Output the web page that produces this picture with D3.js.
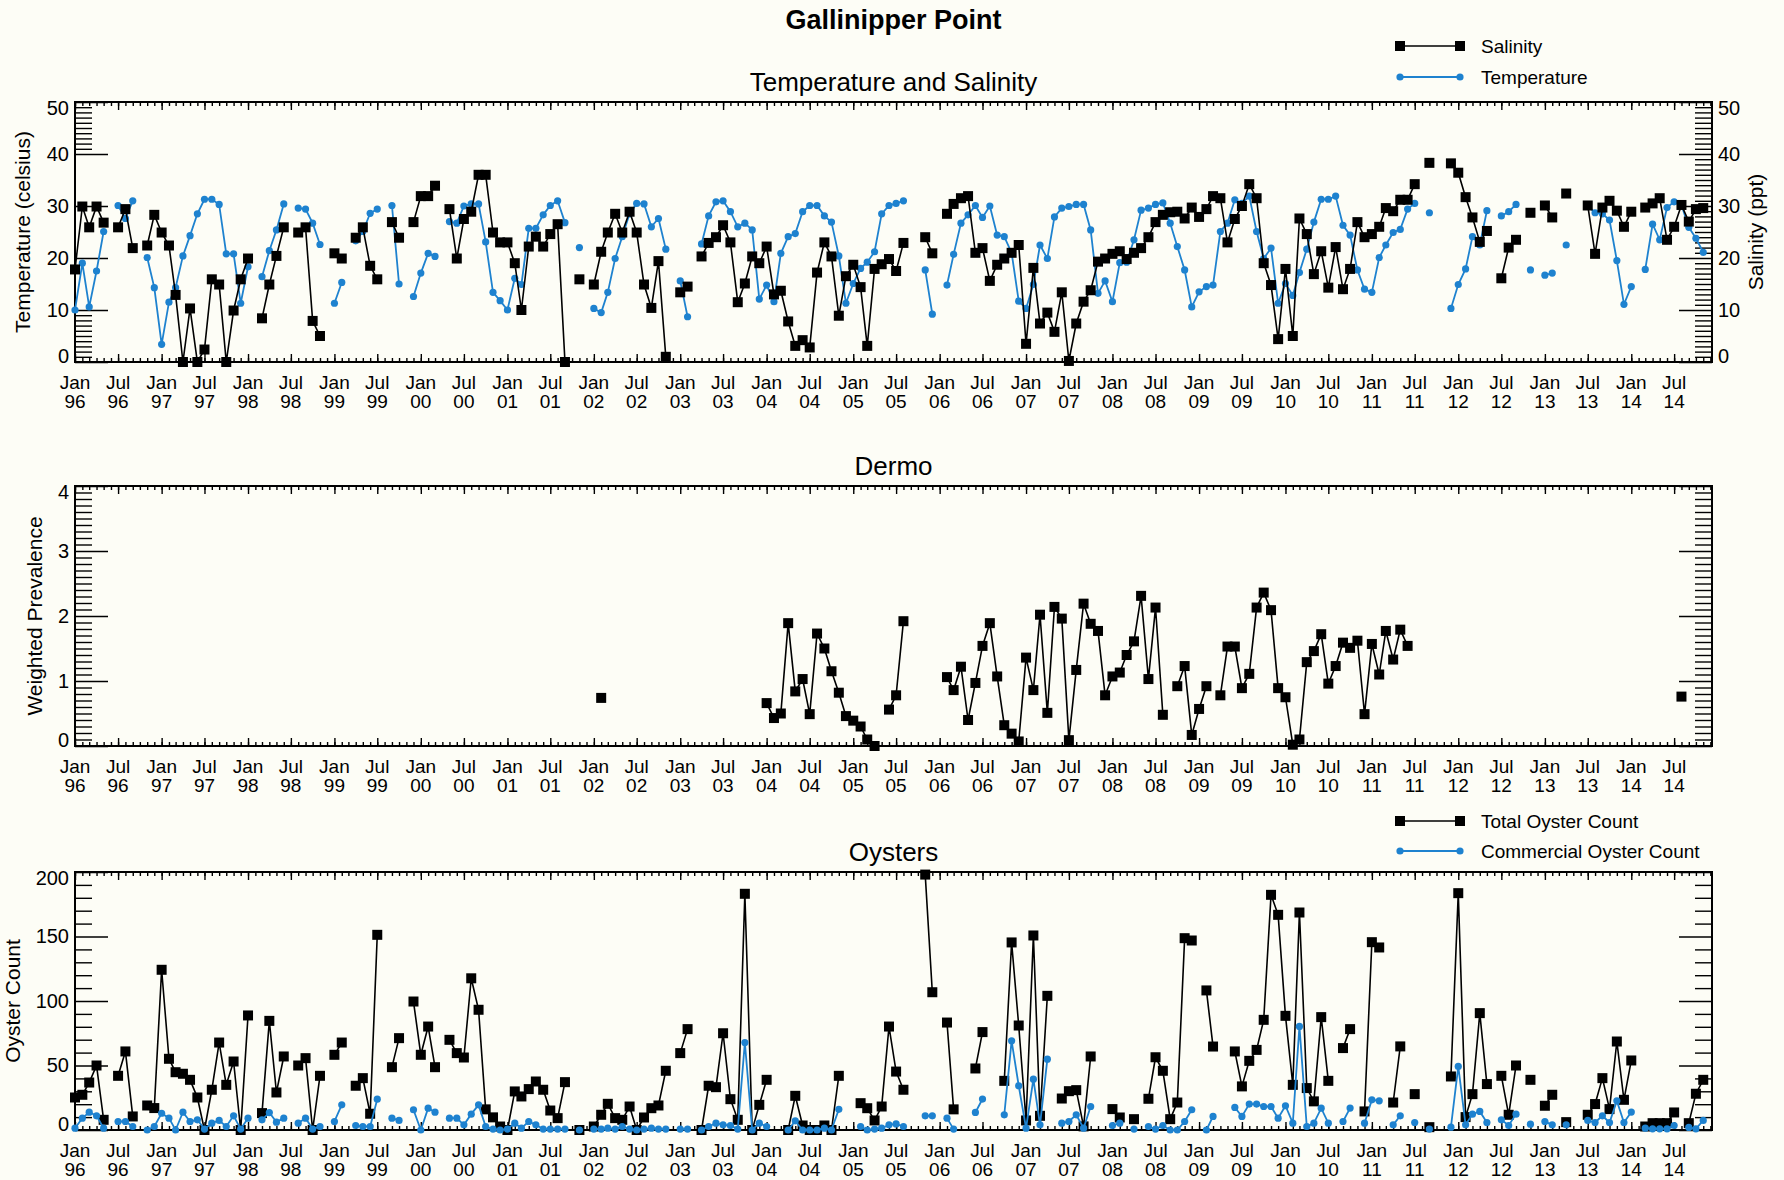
<!DOCTYPE html>
<html>
<head>
<meta charset="utf-8">
<script src="https://cdn.jsdelivr.net/npm/d3@7"></script>
<style>
  body { margin: 0; background: #fdfdf6; }
  text { font-family: "Liberation Sans", Arial, sans-serif; fill: #000; }
</style>
</head>
<body>
<div class="chart"></div>
<script>
var N = null;

// one slot per month, Jan 1996 .. Dec 2014
var firstMonth = new Date(1996, 0, 1);
var months = d3.timeMonth.range(firstMonth, new Date(2015, 0, 1));

var salinity = [
  17.8, 29.9, 25.9, 29.9, 26.8, N, 25.9, 29.4, 21.9, N, 22.4, 28.3,
  24.9, 22.4, 12.9, 0, 10.3, 0, 2.4, 15.9, 14.9, 0, 9.9, 15.9,
  19.9, N, 8.4, 14.9, 20.4, 25.9, N, 24.9, 25.9, 7.9, 5.0, N,
  20.9, 19.9, N, 23.9, 25.9, 18.5, 15.9, N, 26.9, 23.9, N, 26.9,
  31.9, 31.9, 33.9, N, 29.4, 19.9, 27.5, 28.9, 36.0, 36.0, 24.9, 23.0,
  23.0, 19.0, 10.0, 22.2, 24.1, 22.2, 24.6, 26.5, 0, N, 15.9, N,
  14.9, 21.2, 24.9, 28.5, 24.9, 28.9, 24.9, 14.9, 10.4, 19.4, 1.0, N,
  13.4, 14.5, N, 20.3, 22.9, 24.0, 26.3, 23.0, 11.5, 15.1, 20.3, 19.0,
  22.2, 13.0, 13.7, 7.8, 3.1, 4.2, 2.8, 17.2, 23.0, 20.3, 8.9, 16.5,
  18.7, 14.4, 3.1, 17.9, 18.8, 19.8, 17.5, 22.9, N, N, 24.0, 20.9,
  N, 28.5, 30.4, 31.5, 31.9, 21.0, 21.9, 15.6, 18.7, 19.9, 21.0, 22.5,
  3.5, 18.1, 7.4, 9.5, 5.8, 13.4, 0.2, 7.4, 11.6, 13.8, 19.3, 19.9,
  20.8, 21.3, 19.8, 21.0, 21.9, 24.0, 26.9, 28.3, 28.8, 28.9, 27.6, 29.7,
  27.9, 29.4, 31.9, 31.5, 23.0, 27.5, 30.0, 34.2, 31.5, 19.0, 14.8, 4.4,
  17.9, 5.0, 27.6, 24.6, 16.9, 21.3, 14.3, 22.1, 14.0, 17.9, 26.9, 24.0,
  24.6, 26.0, 29.6, 29.0, 31.2, 31.2, 34.2, N, 38.3, N, N, 38.2,
  36.4, 31.7, 27.8, 23.1, 25.2, N, 16.1, 22.0, 23.5, N, 28.7, N,
  30.1, 27.8, N, 32.4, N, N, 30.1, 20.8, 29.7, 31.0, 29.1, 26.0,
  28.9, N, 29.7, 30.5, 31.5, 23.5, 26.0, 30.2, 27.0, 29.4, 29.6, N
];

var temperature = [
  10.0, 19.0, 10.6, 17.5, 25.1, N, 30.1, 27.6, 31.0, N, 20.1, 14.3,
  3.4, 11.5, 14.3, 20.4, 24.3, 28.5, 31.3, 31.3, 30.3, 20.8, 20.8, 11.3,
  18.3, N, 16.4, 21.4, 25.4, 30.4, N, 29.6, 29.4, 26.7, 22.6, N,
  11.3, 15.3, N, 23.3, 25.1, 28.6, 29.4, N, 30.1, 15.0, N, 12.6,
  17.1, 20.9, 20.3, N, 27.0, 26.7, 30.0, 30.4, 30.4, 23.1, 13.4, 11.8,
  10.0, 16.1, 14.9, 25.7, 25.7, 28.3, 30.1, 31.0, 26.8, N, 22.0, N,
  10.3, 9.5, 13.4, 19.9, 24.1, 28.5, 30.5, 30.4, 26.0, 27.6, 21.7, N,
  15.6, 8.7, N, 22.7, 28.1, 30.8, 31.0, 28.9, 26.0, 26.7, 25.4, 12.1,
  14.8, 11.6, 20.9, 24.1, 24.7, 28.9, 30.1, 30.1, 28.1, 26.9, 20.4, 11.3,
  15.1, 18.0, 19.2, 21.2, 28.5, 30.1, 30.5, 31.0, N, N, 17.7, 9.2,
  N, 14.8, 20.7, 26.7, 28.3, 30.1, 27.8, 30.0, 24.4, 24.1, 21.0, 11.7,
  10.3, 14.9, 22.5, 19.9, 27.9, 29.6, 29.9, 30.3, 30.3, 25.4, 13.2, 15.6,
  11.6, 19.1, 19.2, 23.5, 29.2, 29.6, 30.3, 30.6, 26.7, 22.2, 17.7, 10.6,
  13.5, 14.5, 14.8, 25.1, 26.7, 31.2, 30.5, 31.9, 25.1, 19.9, 21.9, 11.3,
  15.1, 12.8, 17.2, 21.7, 26.9, 31.3, 31.3, 31.9, 26.3, 24.4, 17.7, 14.0,
  13.4, 20.1, 22.5, 24.9, 25.5, 29.4, 30.5, N, 28.7, N, N, 10.3,
  14.9, 17.9, 24.1, 22.5, 29.1, N, 28.1, 28.9, 30.3, N, 17.7, N,
  16.7, 17.1, N, 22.5, N, N, 30.0, 28.7, 28.5, 27.3, 19.5, 11.1,
  14.5, N, 17.8, 26.5, 23.5, 29.7, 30.8, 30.2, 25.9, 23.8, 21.1, N
];

var dermo = [
  N, N, N, N, N, N, N, N, N, N, N, N,
  N, N, N, N, N, N, N, N, N, N, N, N,
  N, N, N, N, N, N, N, N, N, N, N, N,
  N, N, N, N, N, N, N, N, N, N, N, N,
  N, N, N, N, N, N, N, N, N, N, N, N,
  N, N, N, N, N, N, N, N, N, N, N, N,
  N, 0.74, N, N, N, N, N, N, N, N, N, N,
  N, N, N, N, N, N, N, N, N, N, N, N,
  0.66, 0.43, 0.5, 1.89, 0.84, 1.03, 0.49, 1.73, 1.5, 1.15, 0.82, 0.46,
  0.39, 0.30, 0.1, 0, N, 0.56, 0.78, 1.92, N, N, N, N,
  N, 1.06, 0.86, 1.22, 0.4, 0.97, 1.54, 1.89, 1.07, 0.32, 0.19, 0.07,
  1.36, 0.86, 2.02, 0.51, 2.14, 1.96, 0.09, 1.17, 2.19, 1.88, 1.77, 0.78,
  1.07, 1.13, 1.4, 1.61, 2.31, 1.03, 2.13, 0.48, N, 0.92, 1.23, 0.17,
  0.57, 0.92, N, 0.78, 1.53, 1.53, 0.89, 1.11, 2.13, 2.36, 2.09, 0.89,
  0.75, 0.02, 0.1, 1.29, 1.46, 1.72, 0.96, 1.23, 1.59, 1.51, 1.62, 0.49,
  1.57, 1.1, 1.77, 1.33, 1.79, 1.54, N, N, N, N, N, N,
  N, N, N, N, N, N, N, N, N, N, N, N,
  N, N, N, N, N, N, N, N, N, N, N, N,
  N, N, N, N, N, N, N, 0.76, N, N, N, N
];

var totalOysters = [
  25.2, 27.3, 36.8, 50.0, 7.9, N, 42.0, 60.9, 10.5, N, 19.0, 17.0,
  124.2, 55.2, 44.8, 43.6, 38.9, 25.2, 0, 31.2, 67.8, 35.0, 53.1, 0,
  88.8, N, 13.1, 84.6, 29.1, 57.0, N, 50.0, 55.7, 0, 42.0, N,
  58.3, 67.8, N, 34.3, 40.2, 12.6, 151.3, N, 48.7, 71.2, N, 99.6,
  58.3, 80.2, 48.7, N, 69.9, 59.6, 56.2, 117.6, 93.2, 16.0, 9.8, 2.7,
  0, 29.9, 26.0, 31.7, 37.6, 31.2, 15.1, 9.2, 37.1, N, 0, N,
  2.7, 11.8, 20.3, 9.2, 7.9, 18.2, 0, 9.7, 16.9, 19.0, 45.9, N,
  59.6, 78.2, N, 0, 34.3, 33.2, 75.0, 23.9, 7.9, 183.1, 0, 19.5,
  38.9, N, N, 0, 26.5, 3.5, 0, 0, 3.5, 0, 42.0, N,
  N, 20.8, 16.9, 7.4, 18.2, 80.2, 45.3, 31.2, N, N, 198, 106.8,
  N, 83.3, 16.0, N, N, 47.7, 75.9, N, N, 38.1, 145.4, 81.0,
  7.4, 150.8, 11.0, 104.0, N, 24.4, 30.1, 30.9, 2.8, 57.0, N, N,
  16.2, 9.7, N, 8.4, N, 24.2, 56.4, 45.9, 8.4, 21.3, 148.7, 146.9,
  N, 108.2, 64.7, N, N, 60.9, 33.8, 53.6, 62.1, 85.4, 182.3, 166.8,
  88.5, 35.0, 168.6, 32.5, 22.2, 87.5, 38.1, N, 63.5, 78.2, N, 14.4,
  145.6, 141.5, N, 21.3, 64.8, N, 27.8, N, 2.2, N, N, 41.5,
  183.6, 10.0, 27.8, 90.6, 35.6, N, 42.0, 11.8, 50.0, N, 38.9, N,
  18.8, 27.3, N, 6.1, N, N, 11.8, 20.1, 40.2, 16.2, 68.6, 23.4,
  53.9, N, 2.7, 5.3, 5.3, 5.3, 13.6, N, 5.3, 28.1, 38.9, N
];

var commercialOysters = [
  1.4, 9.2, 13.8, 11.0, 1.4, N, 6.6, 6.6, 2.7, N, 0, 2.7,
  13.0, 9.2, 0, 13.8, 6.6, 7.9, 0.7, 5.3, 7.4, 2.7, 11.0, 0.7,
  9.2, N, 7.9, 13.5, 6.1, 9.2, N, 5.3, 9.2, 0.7, 2.7, N,
  6.6, 19.5, N, 3.5, 2.7, 2.7, 23.9, N, 9.2, 7.4, N, 15.7,
  0, 16.9, 13.8, N, 9.2, 9.2, 4.0, 12.3, 19.5, 2.7, 0.7, 0,
  0.7, 5.3, 1.4, 6.6, 4.0, 0.7, 0.7, 0.7, 0.7, N, 0, N,
  0.7, 0.7, 1.4, 0.7, 2.7, 0.7, 0, 0.7, 1.4, 0.7, 0.7, N,
  0.7, 0.7, N, 0, 2.7, 5.3, 4.0, 3.5, 0.7, 67.8, 0, 5.3,
  2.7, N, N, 0, 7.1, 0, 0, 0, 1.4, 0, 16.0, N,
  N, 2.7, 0, 0.7, 1.4, 4.0, 4.7, 2.7, N, N, 11.0, 11.0,
  N, 9.2, 0.7, N, N, 13.6, 24.0, N, N, 11.8, 69.1, 34.3,
  1.4, 39.4, 4.0, 54.9, N, 5.3, 6.6, 11.8, 1.4, 18.2, N, N,
  3.5, 5.3, N, 0.7, N, 2.7, 0.7, 3.5, 0, 0, 6.6, 15.7,
  N, 0, 10.5, N, N, 17.5, 10.5, 20.1, 20.1, 18.2, 18.2, 9.2,
  18.8, 5.3, 80.3, 2.7, 5.3, 16.9, 5.3, N, 6.6, 17.0, N, 5.3,
  23.4, 22.6, N, 4.0, 11.0, N, 5.8, N, 0.7, N, N, 2.2,
  49.3, 4.0, 12.3, 14.4, 5.8, N, 7.9, 3.5, 12.3, N, 4.5, N,
  6.6, 4.0, N, 4.0, N, N, 7.4, 5.8, 11.0, 5.8, 22.6, 5.8,
  13.9, N, 1.4, 0.9, 0.9, 0.9, 3.5, N, 2.0, 0.9, 7.4, N
];

var chartTitle = "Gallinipper Point";
var panelTitles = ["Temperature and Salinity", "Dermo", "Oysters"];
var tempTicks = [0, 10, 20, 30, 40, 50];
var dermoTicks = [0, 1, 2, 3, 4];
var oysterTicks = [0, 50, 100, 150, 200];

var width = 1784, height = 1180;
var plotLeft = 75, plotRight = 1712;
var blue = "#1e82cf";

var svg = d3.select(".chart")
    .append("svg")
    .attr("width", width)
    .attr("height", height);

var x = d3.scaleTime()
    .domain([firstMonth, new Date(2014, 11, 8)])
    .range([plotLeft, plotRight]);

var majorX = d3.timeMonth.every(6).range(firstMonth, new Date(2014, 11, 8));
var fmtMon = d3.timeFormat("%b");
var fmtYr = d3.timeFormat("%y");

function noDomain(g) { g.select(".domain").remove(); }

// end labels are nudged inside the frame, like the original plot
function nudgeEnds(g, ticks) {
    g.selectAll(".tick text")
        .style("font-size", "20px")
        .attr("font-family", null)
        .attr("dy", d => d == ticks[0] ? "-0.0em" : d == ticks[ticks.length - 1] ? "0.62em" : "0.32em");
}

function drawPanel(p) {
    var g = svg.append("g");
    var y = d3.scaleLinear().domain(p.domain).range([p.bottom, p.top]);

    // month ticks on bottom and top
    g.append("g").attr("transform", `translate(0,${p.bottom})`)
        .call(d3.axisBottom(x).ticks(d3.timeMonth.every(1)).tickSize(-4).tickFormat(""))
        .call(noDomain);
    g.append("g").attr("transform", `translate(0,${p.bottom})`)
        .call(d3.axisBottom(x).tickValues(majorX).tickSize(-8).tickFormat(""))
        .call(noDomain);
    g.append("g").attr("transform", `translate(0,${p.top})`)
        .call(d3.axisTop(x).ticks(d3.timeMonth.every(1)).tickSize(-4).tickFormat(""))
        .call(noDomain);
    g.append("g").attr("transform", `translate(0,${p.top})`)
        .call(d3.axisTop(x).tickValues(majorX).tickSize(-8).tickFormat(""))
        .call(noDomain);

    // two-line month / year labels
    var lab = g.selectAll(".xlab")
        .data(majorX)
        .enter()
        .append("text")
        .attr("class", "xlab")
        .attr("transform", d => `translate(${x(d)},${p.bottom})`)
        .style("text-anchor", "middle")
        .style("font-size", "19px");
    lab.append("tspan")
        .attr("x", 0)
        .attr("y", 27)
        .text(d => fmtMon(d));
    lab.append("tspan")
        .attr("x", 0)
        .attr("y", 46)
        .text(d => fmtYr(d));

    // y axes: minor then major, ticks pointing inward
    g.append("g").attr("transform", `translate(${plotLeft},0)`)
        .call(d3.axisLeft(y).tickValues(p.minorLeft).tickSize(-17).tickFormat(""))
        .call(noDomain);
    g.append("g").attr("transform", `translate(${plotRight},0)`)
        .call(d3.axisRight(y).tickValues(p.minorRight).tickSize(-17).tickFormat(""))
        .call(noDomain);
    g.append("g").attr("transform", `translate(${plotLeft},0)`)
        .call(d3.axisLeft(y).tickValues(p.ticks).tickSize(-33).tickPadding(6).tickFormat(d3.format("d")))
        .call(noDomain)
        .call(a => nudgeEnds(a, p.ticks));
    g.append("g").attr("transform", `translate(${plotRight},0)`)
        .call(d3.axisRight(y).tickValues(p.ticks).tickSize(-33).tickPadding(6)
            .tickFormat(p.rightLabels ? d3.format("d") : ""))
        .call(noDomain)
        .call(a => nudgeEnds(a, p.ticks));
    g.selectAll(".tick line").attr("stroke-width", 1.4);

    g.append("rect")
        .attr("x", plotLeft)
        .attr("y", p.top)
        .attr("width", plotRight - plotLeft)
        .attr("height", p.bottom - p.top)
        .style("fill", "none")
        .style("stroke", "#000")
        .style("stroke-width", 2);

    g.append("text")
        .attr("x", (plotLeft + plotRight) / 2)
        .attr("y", p.top - 20)
        .attr("dominant-baseline", "central")
        .style("text-anchor", "middle")
        .style("font-size", "26px")
        .text(p.title);

    return {g: g, y: y};
}

function drawSeries(panel, values, color, shape) {
    var pts = months.map((d, i) => ({date: d, v: values[i]}));
    var line = d3.line()
        .defined(d => d.v != null)
        .x(d => x(d.date))
        .y(d => panel.y(d.v));
    panel.g.append("path")
        .datum(pts)
        .attr("d", line)
        .style("fill", "none")
        .style("stroke", color)
        .style("stroke-width", shape == "square" ? 1.6 : 1.8);
    var marks = pts.filter(d => d.v != null);
    if (shape == "square") {
        panel.g.selectAll(null)
            .data(marks)
            .enter()
            .append("rect")
            .attr("x", d => x(d.date) - 5)
            .attr("y", d => panel.y(d.v) - 5)
            .attr("width", 10)
            .attr("height", 10)
            .style("fill", color);
    } else {
        panel.g.selectAll(null)
            .data(marks)
            .enter()
            .append("circle")
            .attr("cx", d => x(d.date))
            .attr("cy", d => panel.y(d.v))
            .attr("r", 3.6)
            .style("fill", color);
    }
}

function legendRow(xl, yl, color, shape, label) {
    var g = svg.append("g");
    g.append("line")
        .attr("x1", xl).attr("x2", xl + 60)
        .attr("y1", yl).attr("y2", yl)
        .style("stroke", color)
        .style("stroke-width", shape == "square" ? 1.6 : 1.8);
    [xl, xl + 60].forEach(cx => {
        if (shape == "square") {
            g.append("rect").attr("x", cx - 5).attr("y", yl - 5)
                .attr("width", 10).attr("height", 10).style("fill", color);
        } else {
            g.append("circle").attr("cx", cx).attr("cy", yl).attr("r", 3.6).style("fill", color);
        }
    });
    g.append("text")
        .attr("x", xl + 81)
        .attr("y", yl)
        .attr("dominant-baseline", "central")
        .style("font-size", "19px")
        .text(label);
}

function yTitle(xp, yp, label) {
    svg.append("text")
        .attr("transform", `translate(${xp},${yp}) rotate(-90)`)
        .attr("dominant-baseline", "central")
        .style("text-anchor", "middle")
        .style("font-size", "21px")
        .text(label);
}

svg.append("text")
    .attr("x", (plotLeft + plotRight) / 2)
    .attr("y", 20)
    .attr("dominant-baseline", "central")
    .style("text-anchor", "middle")
    .style("font-size", "27px")
    .style("font-weight", "bold")
    .text(chartTitle);

// temperature and salinity
var p1 = drawPanel({
    top: 102, bottom: 362, domain: [0, 50], ticks: tempTicks, title: panelTitles[0],
    minorLeft: d3.range(1, 50).filter(v => v % 10 && (v < 10 || v > 40)),
    minorRight: d3.range(1, 50).filter(v => v % 10),
    rightLabels: true
});
drawSeries(p1, temperature, blue, "circle");
drawSeries(p1, salinity, "#000", "square");

// dermo
var p2 = drawPanel({
    top: 486, bottom: 746, domain: [0, 4], ticks: dermoTicks, title: panelTitles[1],
    minorLeft: d3.range(1, 40).filter(v => v % 10).map(v => v / 10),
    minorRight: d3.range(1, 40).filter(v => v % 10).map(v => v / 10),
    rightLabels: false
});
drawSeries(p2, dermo, "#000", "square");

// oysters
var p3 = drawPanel({
    top: 872, bottom: 1130, domain: [0, 200], ticks: oysterTicks, title: panelTitles[2],
    minorLeft: d3.range(10, 200, 10).filter(v => v % 50),
    minorRight: d3.range(10, 200, 10).filter(v => v % 50),
    rightLabels: false
});
drawSeries(p3, totalOysters, "#000", "square");
drawSeries(p3, commercialOysters, blue, "circle");

legendRow(1400, 46, "#000", "square", "Salinity");
legendRow(1400, 77, blue, "circle", "Temperature");
legendRow(1400, 821, "#000", "square", "Total Oyster Count");
legendRow(1400, 851, blue, "circle", "Commercial Oyster Count");

yTitle(22, 232, "Temperature (celsius)");
yTitle(1755, 232, "Salinity (ppt)");
yTitle(34, 616, "Weighted Prevalence");
yTitle(12, 1001, "Oyster Count");
</script>
</body>
</html>
